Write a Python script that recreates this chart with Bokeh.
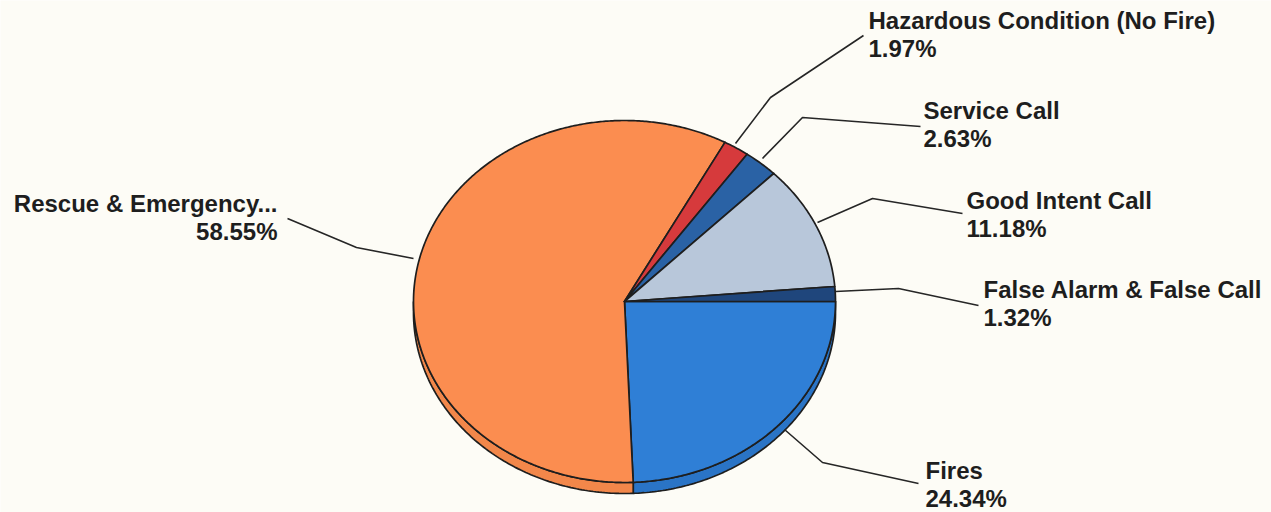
import numpy as np
from bokeh.plotting import figure
from bokeh.models import Range1d, ColumnDataSource
from bokeh.embed import file_html
from bokeh.resources import INLINE

# ---- data (clockwise from 3 o'clock) ----
categories = ["Fires", "Rescue & Emergency...", "Hazardous Condition (No Fire)",
              "Service Call", "Good Intent Call", "False Alarm & False Call"]
percents = [24.34, 58.55, 1.97, 2.63, 11.18, 1.32]
pct_labels = ["24.34%", "58.55%", "1.97%", "2.63%", "11.18%", "1.32%"]

# ---- styles ----
face_colors = ["#2F7FD6", "#FB8D50", "#D63A3C", "#2A62A5", "#B8C7DA", "#1F467C"]
side_colors = ["#2A74C6", "#F2874A", "#C23234", "#24568F", "#A5B4C8", "#1A3C6A"]
edge = "#1e1e1e"
bg = "#FDFCF6"

# ---- layout (picture-pixel-like coordinates) ----
W, H = 1271, 512
cx, cy, rx, ry, depth = 624, 301, 211, 181, 11

label_pos = {
    "Fires": (925, 470, "left"),
    "Rescue & Emergency...": (277, 203, "right"),
    "Hazardous Condition (No Fire)": (868, 20, "left"),
    "Service Call": (923, 110, "left"),
    "Good Intent Call": (966, 200, "left"),
    "False Alarm & False Call": (983, 289, "left"),
}
leaders = {
    "Fires": ([918, 822, 784], [483, 462, 429]),
    "Rescue & Emergency...": ([287, 356, 413], [218, 247, 258]),
    "Hazardous Condition (No Fire)": ([863, 770, 735], [35, 97, 143]),
    "Service Call": ([920, 802, 762], [126, 117, 158]),
    "Good Intent Call": ([962, 872, 817], [213, 198, 222]),
    "False Alarm & False Call": ([978, 898, 835], [305, 288, 291]),
}
line_gap = 28

p = figure(width=W, height=H, x_range=Range1d(0, W), y_range=Range1d(H, 0),
           output_backend="svg", toolbar_location=None, min_border=0,
           background_fill_color=bg, border_fill_color=bg, outline_line_color=None)
p.axis.visible = False
p.grid.visible = False

fr = np.array(percents) / sum(percents)
cum = np.concatenate([[0], np.cumsum(fr)])

def ex(t):
    return cx + rx * np.cos(t)

def ey(t):
    return cy - ry * np.sin(t)

# sides (only the front / lower half is visible)
sx, sy, sc = [], [], []
for i in range(len(percents)):
    t0 = -2 * np.pi * cum[i]
    t1 = -2 * np.pi * cum[i + 1]
    lo, hi = max(t1, -np.pi), min(t0, 0.0)
    if hi <= lo:
        continue
    t = np.linspace(hi, lo, 120)
    xs = list(ex(t)) + list(ex(t[::-1]))
    ys = list(ey(t)) + list(ey(t[::-1]) + depth)
    sx.append(xs); sy.append(ys); sc.append(side_colors[i])
p.patches(sx, sy, fill_color=sc, line_color=edge, line_width=1.7)

# top faces
fx, fy = [], []
for i in range(len(percents)):
    t0 = -2 * np.pi * cum[i]
    t1 = -2 * np.pi * cum[i + 1]
    n = max(8, int(abs(t1 - t0) * 120))
    t = np.linspace(t0, t1, n)
    fx.append([cx] + list(ex(t)))
    fy.append([cy] + list(ey(t)))
p.patches(fx, fy, fill_color=face_colors, line_color=edge, line_width=1.7,
          line_join="round")

# leader lines
p.multi_line([leaders[c][0] for c in categories], [leaders[c][1] for c in categories],
             line_color="#262626", line_width=1.6)

# labels
for c, pl in zip(categories, pct_labels):
    x, y, al = label_pos[c]
    src = ColumnDataSource(dict(x=[x, x], y=[y, y + line_gap], t=[c, pl]))
    p.text("x", "y", "t", source=src, text_align=al, text_baseline="middle",
           text_font_size="24px", text_font_style="bold", text_color="#1e1e1e",
           text_font={"value": "Liberation Sans"})

open("out.html", "w").write(file_html(p, INLINE))
